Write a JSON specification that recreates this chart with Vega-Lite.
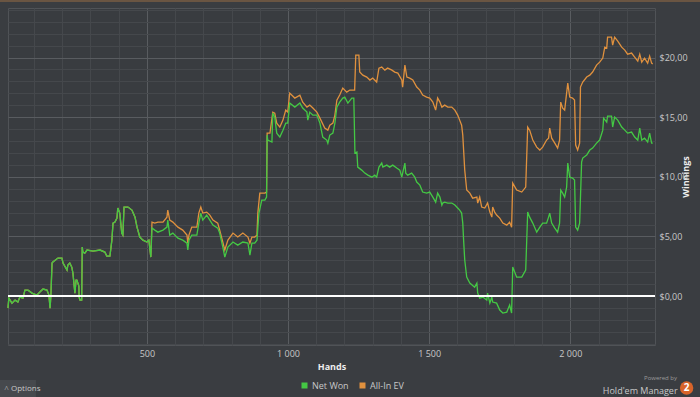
{
"$schema": "https://vega.github.io/schema/vega-lite/v6.json",
"autosize": {"type": "none"},
"width": 647,
"height": 337,
"padding": {"left": 8, "top": 8, "right": 45, "bottom": 52},
"background": "#3a3d41",
"config": {"view": {"fill": "#393c40", "stroke": "#505357", "strokeWidth": 1}, "font": "Open Sans"},
"resolve": {"axis": {"x": "independent", "y": "independent"}},
"datasets": {
"net": [
{"hands":8,"won":-1.01},{"hands":11,"won":-0.17},{"hands":22,"won":-0.59},{"hands":33,"won":-0.34},{"hands":43,"won":-0.5},{"hands":50,"won":-0.08},{"hands":61,"won":-0.17},{"hands":68,"won":0.5},{"hands":79,"won":0.5},{"hands":93,"won":0.25},{"hands":110,"won":0.08},{"hands":121,"won":0.34},{"hands":132,"won":0.59},{"hands":146,"won":0.5},{"hands":153,"won":0.08},{"hands":157,"won":-1.01},{"hands":160,"won":0.08},{"hands":164,"won":2.77},{"hands":167,"won":2.85},{"hands":185,"won":3.19},{"hands":199,"won":3.19},{"hands":203,"won":2.77},{"hands":217,"won":2.18},{"hands":220,"won":2.6},{"hands":227,"won":2.77},{"hands":234,"won":2.43},{"hands":238,"won":1.93},{"hands":245,"won":0.25},{"hands":249,"won":1.34},{"hands":252,"won":1.34},{"hands":259,"won":0.84},{"hands":260,"won":-0.08},{"hands":263,"won":-0.34},{"hands":269,"won":-0.34},{"hands":271,"won":4.11},{"hands":273,"won":3.69},{"hands":280,"won":3.6},{"hands":288,"won":3.86},{"hands":309,"won":3.77},{"hands":334,"won":3.86},{"hands":351,"won":3.69},{"hands":358,"won":3.35},{"hands":369,"won":3.35},{"hands":376,"won":4.69},{"hands":380,"won":6.12},{"hands":387,"won":6.2},{"hands":394,"won":6.54},{"hands":397,"won":7.38},{"hands":404,"won":6.96},{"hands":411,"won":5.28},{"hands":415,"won":5.11},{"hands":419,"won":7.46},{"hands":433,"won":7.46},{"hands":447,"won":7.21},{"hands":458,"won":6.62},{"hands":465,"won":5.78},{"hands":475,"won":4.95},{"hands":486,"won":4.69},{"hands":500,"won":4.53},{"hands":507,"won":4.69},
{"hands":514,"won":3.27},{"hands":518,"won":5.7},{"hands":528,"won":5.53},{"hands":539,"won":5.36},{"hands":557,"won":5.53},{"hands":571,"won":5.78},{"hands":574,"won":6.37},{"hands":581,"won":5.11},{"hands":592,"won":5.28},{"hands":610,"won":4.86},{"hands":627,"won":4.69},{"hands":642,"won":4.44},{"hands":645,"won":3.86},{"hands":649,"won":4.69},{"hands":659,"won":5.11},{"hands":677,"won":5.11},{"hands":684,"won":6.12},{"hands":691,"won":6.96},{"hands":698,"won":6.37},{"hands":712,"won":6.79},{"hands":723,"won":6.37},{"hands":734,"won":5.95},{"hands":751,"won":5.7},{"hands":758,"won":5.28},{"hands":769,"won":4.11},{"hands":776,"won":3.27},{"hands":787,"won":4.11},{"hands":805,"won":4.53},{"hands":822,"won":4.27},{"hands":840,"won":4.53},{"hands":858,"won":4.44},{"hands":865,"won":3.44},{"hands":872,"won":4.44},{"hands":882,"won":4.44},{"hands":890,"won":4.69},{"hands":893,"won":5.7},{"hands":897,"won":6.96},{"hands":907,"won":8.05},{"hands":918,"won":8.05},{"hands":924,"won":8.3},{"hands":926,"won":13.5},{"hands":928,"won":13.08},{"hands":943,"won":12.91},{"hands":946,"won":15.34},{"hands":953,"won":15.0},{"hands":960,"won":13.66},{"hands":971,"won":13.33},{"hands":982,"won":13.91},{"hands":992,"won":14.5},{"hands":999,"won":14.5},{"hands":1006,"won":16.18},{"hands":1024,"won":15.84},{"hands":1042,"won":16.18},{"hands":1052,"won":15.76},{"hands":1067,"won":15.42},{"hands":1070,"won":14.75},{"hands":1077,"won":15.42},{"hands":1088,"won":15.17},{"hands":1102,"won":15.17},{"hands":1113,"won":14.5},{"hands":1123,"won":13.33},{"hands":1137,"won":13.08},{"hands":1141,"won":12.82},{"hands":1148,"won":13.5},{"hands":1159,"won":13.66},{"hands":1166,"won":14.5},{"hands":1173,"won":15.84},{"hands":1183,"won":16.26},{"hands":1194,"won":16.6},{"hands":1201,"won":16.68},{"hands":1212,"won":16.18},{"hands":1226,"won":16.6},{"hands":1233,"won":16.6},{"hands":1237,"won":11.99},{"hands":1244,"won":12.07},{"hands":1247,"won":10.81},{"hands":1261,"won":10.56},{"hands":1272,"won":10.31},{"hands":1283,"won":10.14},{"hands":1297,"won":9.97},{"hands":1307,"won":10.14},{"hands":1314,"won":9.97},{"hands":1322,"won":10.81},{"hands":1332,"won":11.15},{"hands":1336,"won":10.81},{"hands":1350,"won":10.98},{"hands":1360,"won":10.81},{"hands":1371,"won":10.98},{"hands":1385,"won":10.73},{"hands":1396,"won":10.56},{"hands":1403,"won":9.97},{"hands":1406,"won":10.31},{"hands":1414,"won":11.15},{"hands":1417,"won":10.31},{"hands":1424,"won":10.14},{"hands":1438,"won":10.31},{"hands":1449,"won":9.97},{"hands":1456,"won":9.56},{"hands":1467,"won":9.3},{"hands":1477,"won":8.72},{"hands":1491,"won":8.63},{"hands":1502,"won":8.72},{"hands":1513,"won":8.3},{"hands":1523,"won":7.88},{"hands":1530,"won":8.63},{"hands":1538,"won":8.3},{"hands":1545,"won":7.63},{"hands":1548,"won":7.8},{"hands":1555,"won":7.88},{"hands":1566,"won":7.8},{"hands":1580,"won":7.8},{"hands":1591,"won":7.63},{"hands":1601,"won":7.38},{"hands":1608,"won":7.21},{"hands":1615,"won":6.96},{"hands":1619,"won":6.12},{"hands":1622,"won":4.69},{"hands":1626,"won":3.02},{"hands":1633,"won":1.59},{"hands":1644,"won":1.09},{"hands":1661,"won":0.75},{"hands":1669,"won":1.09},{"hands":1672,"won":0.25},{"hands":1679,"won":-0.17},{"hands":1690,"won":-0.08},{"hands":1704,"won":-0.34},{"hands":1707,"won":0.25},{"hands":1715,"won":-0.59},{"hands":1722,"won":-0.08},{"hands":1725,"won":-0.5},{"hands":1739,"won":-0.59},{"hands":1750,"won":-1.17},{"hands":1761,"won":-1.42},{"hands":1775,"won":-1.34},{"hands":1785,"won":-0.75},{"hands":1792,"won":-1.42},{"hands":1796,"won":2.43},{"hands":1810,"won":1.59},{"hands":1828,"won":1.59},{"hands":1842,"won":2.18},{"hands":1849,"won":7.04},{"hands":1856,"won":6.62},{"hands":1867,"won":6.12},{"hands":1881,"won":5.36},{"hands":1892,"won":5.78},{"hands":1902,"won":6.12},{"hands":1916,"won":6.12},{"hands":1923,"won":6.62},{"hands":1927,"won":6.96},{"hands":1934,"won":6.12},{"hands":1945,"won":5.7},{"hands":1955,"won":5.36},{"hands":1962,"won":6.12},{"hands":1966,"won":8.89},{"hands":1973,"won":8.63},{"hands":1980,"won":8.3},{"hands":1987,"won":9.14},{"hands":1991,"won":11.15},{"hands":1998,"won":9.97},{"hands":2008,"won":9.89},{"hands":2015,"won":9.72},{"hands":2019,"won":5.78},{"hands":2026,"won":5.53},{"hands":2033,"won":6.12},{"hands":2040,"won":11.23},{"hands":2044,"won":11.57},{"hands":2058,"won":11.82},{"hands":2069,"won":12.24},{"hands":2079,"won":12.41},{"hands":2093,"won":12.82},{"hands":2104,"won":13.08},{"hands":2115,"won":13.91},{"hands":2118,"won":14.92},{"hands":2129,"won":14.59},{"hands":2132,"won":15.09},{"hands":2146,"won":15.09},{"hands":2150,"won":14.17},{"hands":2157,"won":15.0},{"hands":2168,"won":14.75},{"hands":2182,"won":14.17},{"hands":2193,"won":13.91},{"hands":2203,"won":13.66},{"hands":2217,"won":13.75},{"hands":2228,"won":13.33},{"hands":2239,"won":13.08},{"hands":2246,"won":14.08},{"hands":2253,"won":13.08},{"hands":2263,"won":13.24},{"hands":2274,"won":12.91},{"hands":2281,"won":13.66},{"hands":2288,"won":12.82},{"hands":2292,"won":12.82}
],
"ev": [
{"hands":8,"won":-1.01},{"hands":11,"won":-0.17},{"hands":22,"won":-0.59},{"hands":33,"won":-0.34},{"hands":43,"won":-0.5},{"hands":50,"won":-0.08},{"hands":61,"won":-0.17},{"hands":68,"won":0.5},{"hands":79,"won":0.5},{"hands":93,"won":0.25},{"hands":110,"won":0.08},{"hands":121,"won":0.34},{"hands":132,"won":0.59},{"hands":146,"won":0.5},{"hands":153,"won":0.08},{"hands":157,"won":-1.01},{"hands":160,"won":0.08},{"hands":164,"won":2.77},{"hands":167,"won":2.85},{"hands":185,"won":3.19},{"hands":199,"won":3.19},{"hands":203,"won":2.77},{"hands":217,"won":2.18},{"hands":220,"won":2.6},{"hands":227,"won":2.77},{"hands":234,"won":2.43},{"hands":238,"won":1.93},{"hands":245,"won":0.25},{"hands":249,"won":1.34},{"hands":252,"won":1.34},{"hands":259,"won":0.84},{"hands":260,"won":-0.08},{"hands":263,"won":-0.34},{"hands":269,"won":-0.34},{"hands":271,"won":4.11},{"hands":273,"won":3.69},{"hands":280,"won":3.6},{"hands":288,"won":3.86},{"hands":309,"won":3.77},{"hands":334,"won":3.86},{"hands":351,"won":3.69},{"hands":358,"won":3.35},{"hands":369,"won":3.35},{"hands":376,"won":4.69},{"hands":380,"won":6.12},{"hands":387,"won":6.2},{"hands":394,"won":6.54},{"hands":397,"won":7.38},{"hands":404,"won":6.96},{"hands":411,"won":5.28},{"hands":415,"won":5.11},{"hands":419,"won":7.46},{"hands":433,"won":7.46},{"hands":447,"won":7.21},{"hands":458,"won":6.62},{"hands":465,"won":5.78},{"hands":475,"won":4.95},{"hands":486,"won":4.69},{"hands":500,"won":4.53},{"hands":507,"won":4.69},
{"hands":514,"won":3.27},{"hands":518,"won":6.2},{"hands":528,"won":6.12},{"hands":539,"won":6.2},{"hands":557,"won":6.2},{"hands":571,"won":6.62},{"hands":574,"won":7.21},{"hands":581,"won":6.37},{"hands":592,"won":6.2},{"hands":610,"won":5.78},{"hands":627,"won":5.53},{"hands":642,"won":5.11},{"hands":645,"won":4.44},{"hands":649,"won":5.11},{"hands":659,"won":5.78},{"hands":677,"won":5.78},{"hands":684,"won":6.96},{"hands":691,"won":7.46},{"hands":698,"won":6.96},{"hands":712,"won":7.04},{"hands":723,"won":6.79},{"hands":734,"won":6.37},{"hands":751,"won":6.12},{"hands":758,"won":5.53},{"hands":769,"won":4.53},{"hands":776,"won":3.86},{"hands":787,"won":4.69},{"hands":805,"won":5.28},{"hands":822,"won":4.95},{"hands":840,"won":5.28},{"hands":858,"won":4.95},{"hands":865,"won":4.44},{"hands":872,"won":4.95},{"hands":882,"won":4.95},{"hands":890,"won":5.11},{"hands":893,"won":6.96},{"hands":900,"won":8.63},{"hands":918,"won":8.63},{"hands":924,"won":8.72},{"hands":926,"won":13.66},{"hands":936,"won":13.66},{"hands":946,"won":15.42},{"hands":953,"won":15.34},{"hands":960,"won":14.5},{"hands":971,"won":14.17},{"hands":982,"won":14.75},{"hands":992,"won":15.59},{"hands":999,"won":15.42},{"hands":1006,"won":17.02},{"hands":1024,"won":16.6},{"hands":1042,"won":16.85},{"hands":1052,"won":16.26},{"hands":1067,"won":15.84},{"hands":1077,"won":16.01},{"hands":1088,"won":15.76},{"hands":1102,"won":15.42},{"hands":1113,"won":14.92},{"hands":1130,"won":14.08},{"hands":1141,"won":13.91},{"hands":1148,"won":14.33},{"hands":1159,"won":14.5},{"hands":1166,"won":15.17},{"hands":1173,"won":16.43},{"hands":1183,"won":16.85},{"hands":1194,"won":17.44},{"hands":1208,"won":17.1},{"hands":1219,"won":17.27},{"hands":1236,"won":17.27},{"hands":1240,"won":20.2},{"hands":1251,"won":20.2},{"hands":1254,"won":18.78},{"hands":1265,"won":18.52},{"hands":1279,"won":18.36},{"hands":1290,"won":18.11},{"hands":1300,"won":18.27},{"hands":1314,"won":17.94},{"hands":1322,"won":19.11},{"hands":1332,"won":19.2},{"hands":1343,"won":18.94},{"hands":1353,"won":19.11},{"hands":1368,"won":18.94},{"hands":1378,"won":18.78},{"hands":1389,"won":18.69},{"hands":1403,"won":18.11},{"hands":1406,"won":17.52},{"hands":1414,"won":19.36},{"hands":1421,"won":18.36},{"hands":1431,"won":18.27},{"hands":1442,"won":18.11},{"hands":1456,"won":17.52},{"hands":1467,"won":17.27},{"hands":1477,"won":16.85},{"hands":1491,"won":16.68},{"hands":1502,"won":16.6},{"hands":1513,"won":16.26},{"hands":1523,"won":15.59},{"hands":1530,"won":16.6},{"hands":1538,"won":16.26},{"hands":1545,"won":15.84},{"hands":1555,"won":16.01},{"hands":1566,"won":15.84},{"hands":1580,"won":15.84},{"hands":1591,"won":15.59},{"hands":1601,"won":15.17},{"hands":1608,"won":14.75},{"hands":1615,"won":14.33},{"hands":1619,"won":13.5},{"hands":1626,"won":10.56},{"hands":1633,"won":8.89},{"hands":1644,"won":8.63},{"hands":1654,"won":8.21},{"hands":1669,"won":8.3},{"hands":1672,"won":7.8},{"hands":1679,"won":8.3},{"hands":1686,"won":7.46},{"hands":1697,"won":7.38},{"hands":1707,"won":7.8},{"hands":1715,"won":7.04},{"hands":1722,"won":6.62},{"hands":1725,"won":7.46},{"hands":1732,"won":7.04},{"hands":1739,"won":6.79},{"hands":1750,"won":6.54},{"hands":1761,"won":6.12},{"hands":1775,"won":5.95},{"hands":1785,"won":6.2},{"hands":1792,"won":5.78},{"hands":1796,"won":9.47},{"hands":1810,"won":8.89},{"hands":1828,"won":8.72},{"hands":1842,"won":9.14},{"hands":1849,"won":14.17},{"hands":1856,"won":13.91},{"hands":1867,"won":13.08},{"hands":1881,"won":12.49},{"hands":1892,"won":12.24},{"hands":1902,"won":12.49},{"hands":1916,"won":13.08},{"hands":1923,"won":13.24},{"hands":1927,"won":14.08},{"hands":1934,"won":13.24},{"hands":1945,"won":12.82},{"hands":1955,"won":12.41},{"hands":1962,"won":13.08},{"hands":1966,"won":16.26},{"hands":1973,"won":15.76},{"hands":1980,"won":15.59},{"hands":1991,"won":17.85},{"hands":1998,"won":16.68},{"hands":2008,"won":16.6},{"hands":2015,"won":16.43},{"hands":2019,"won":12.66},{"hands":2026,"won":12.24},{"hands":2033,"won":12.82},{"hands":2036,"won":17.52},{"hands":2044,"won":17.94},{"hands":2058,"won":18.36},{"hands":2069,"won":18.52},{"hands":2079,"won":18.78},{"hands":2093,"won":19.36},{"hands":2104,"won":19.61},{"hands":2115,"won":19.95},{"hands":2122,"won":20.87},{"hands":2129,"won":20.79},{"hands":2132,"won":21.71},{"hands":2146,"won":21.71},{"hands":2150,"won":21.04},{"hands":2157,"won":21.71},{"hands":2168,"won":21.37},{"hands":2182,"won":20.87},{"hands":2193,"won":20.62},{"hands":2203,"won":20.28},{"hands":2217,"won":20.37},{"hands":2228,"won":20.03},{"hands":2239,"won":19.7},{"hands":2246,"won":20.28},{"hands":2253,"won":19.61},{"hands":2263,"won":19.95},{"hands":2274,"won":19.53},{"hands":2281,"won":20.12},{"hands":2288,"won":19.53},{"hands":2292,"won":19.45}
]
},
"layer": [
{
"data": {"name": "net"},
"mark": {"type": "line", "strokeWidth": 0, "opacity": 0},
"encoding": {
"x": {"field": "hands", "type": "quantitative",
 "scale": {"domain": [8, 2300], "nice": false, "zero": false},
 "axis": {"orient": "top", "values": [100,200,300,400,600,700,800,900,1100,1200,1300,1400,1600,1700,1800,1900,2100,2200],
  "grid": true, "gridColor": "#45484c", "domain": false, "ticks": false, "labels": false, "title": null}},
"y": {"field": "won", "type": "quantitative",
 "scale": {"domain": [-4.1, 24.15], "nice": false, "zero": false},
 "axis": {"orient": "left", "values": [-4,-3,-2,-1,1,2,3,4,6,7,8,9,11,12,13,14,16,17,18,19,21,22,23,24],
  "grid": true, "gridColor": "#45484c", "domain": false, "ticks": false, "labels": false, "title": null}}
}
},
{
"data": {"name": "ev"},
"mark": {"type": "line", "strokeWidth": 1.3},
"encoding": {
"x": {"field": "hands", "type": "quantitative",
 "axis": {"orient": "bottom", "values": [500,1000,1500,2000],
  "grid": true, "gridColor": "#595c60", "domain": false, "ticks": false, "labelOverlap": false, "labelFlush": false,
  "labelExpr": "replace(format(datum.value, ','), ',', ' ')",
  "labelColor": "#c8c8c8", "labelFontSize": 9, "labelPadding": 4,
  "title": "Hands", "titleColor": "#eeeeee", "titleFontSize": 9, "titleFontWeight": "bold", "titlePadding": 4}},
"y": {"field": "won", "type": "quantitative",
 "axis": {"orient": "right", "values": [0,5,10,15,20],
  "grid": true, "gridColor": "#595c60", "domain": false, "ticks": false, "labelOverlap": false, "labelFlush": false,
  "labelExpr": "'$' + replace(format(datum.value, '.2f'), '.', ',')",
  "labelColor": "#c8c8c8", "labelFontSize": 9, "labelPadding": 4,
  "title": "Winnings", "titleColor": "#eeeeee", "titleFontSize": 9, "titleFontWeight": "bold", "titleAngle": 270, "titlePadding": 3}},
"color": {"datum": "All-In EV", "type": "nominal",
 "scale": {"domain": ["Net Won", "All-In EV"], "range": ["#44c844", "#e0913e"]},
 "legend": {"orient": "none", "legendX": 292, "legendY": 373, "direction": "horizontal", "title": null,
  "symbolType": "square", "symbolSize": 9, "symbolStrokeWidth": 3, "labelColor": "#c8c8c8", "labelFontSize": 9, "columnPadding": 6, "labelOffset": 3}}
}
},
{
"data": {"name": "net"},
"mark": {"type": "line", "strokeWidth": 1.3},
"encoding": {
"x": {"field": "hands", "type": "quantitative", "axis": null},
"y": {"field": "won", "type": "quantitative", "axis": null},
"color": {"datum": "Net Won", "type": "nominal"}
}
},
{
"data": {"values": [{}]},
"mark": {"type": "rule", "color": "#ffffff", "strokeWidth": 2},
"encoding": {"y": {"datum": 0, "axis": null}}
},
{
"data": {"values": [{}]},
"mark": {"type": "rect", "fill": "#46494d"},
"encoding": {"x": {"datum": -21, "axis": null}, "x2": {"datum": 107}, "y": {"datum": -7.04, "axis": null}, "y2": {"datum": -8.5}}
},
{
"data": {"values": [{}]},
"mark": {"type": "text", "text": "˄  Options", "align": "left", "baseline": "middle", "fontSize": 8, "color": "#c8c8c8"},
"encoding": {"x": {"datum": -5, "axis": null}, "y": {"datum": -7.75, "axis": null}}
},
{
"data": {"values": [{}]},
"mark": {"type": "text", "text": "Powered by", "align": "right", "baseline": "middle", "fontSize": 6, "color": "#9a9a9a"},
"encoding": {"x": {"datum": 2378, "axis": null}, "y": {"datum": -6.9, "axis": null}}
},
{
"data": {"values": [{}]},
"mark": {"type": "text", "text": "Hold'em Manager", "align": "right", "baseline": "middle", "fontSize": 9, "color": "#c8c8c8"},
"encoding": {"x": {"datum": 2380, "axis": null}, "y": {"datum": -7.97, "axis": null}}
},
{
"data": {"values": [{}]},
"mark": {"type": "point", "filled": true, "shape": "circle", "size": 180, "color": "#d8642a", "opacity": 1},
"encoding": {"x": {"datum": 2412, "axis": null}, "y": {"datum": -7.7, "axis": null}}
},
{
"data": {"values": [{}]},
"mark": {"type": "text", "text": "2", "align": "center", "baseline": "middle", "fontSize": 10, "fontWeight": "bold", "color": "#ffffff"},
"encoding": {"x": {"datum": 2412, "axis": null}, "y": {"datum": -7.7, "axis": null}}
},
{
"data": {"values": [{}]},
"mark": {"type": "rect", "fill": "#6a5542"},
"encoding": {"x": {"datum": -25, "axis": null}, "x2": {"datum": 2460}, "y": {"datum": 24.82, "axis": null}, "y2": {"datum": 24.65}}
}
]
}
